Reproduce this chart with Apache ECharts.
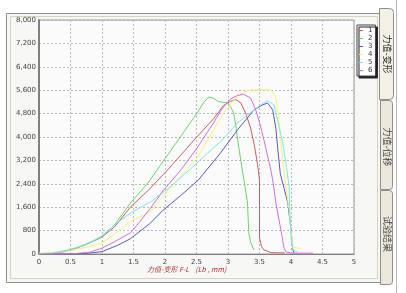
<!DOCTYPE html>
<html><head><meta charset="utf-8">
<script src="https://cdn.jsdelivr.net/npm/echarts@6/dist/echarts.min.js"></script>
<style>html,body{margin:0;padding:0;background:#fff}#c{width:406px;height:293px}</style>
</head><body><div id="c"></div>
<script>
// ---- data (x: deformation mm, y: force Lb) ----
var seriesNames = ['1','2','3','4','5','6'];
var xTicks = ['0','0.5','1','1.5','2','2.5','3','3.5','4','4.5','5'];
var yTicks = ['0','800','1,600','2,400','3,200','4,000','4,800','5,600','6,400','7,200','8,000'];
var curve1 = [[0,0],[0.2,20],[0.4,80],[0.6,200],[0.8,380],[1.0,580],[1.2,930],[1.45,1600],[1.74,2190],[2.0,2780],[2.25,3380],[2.5,3990],[2.77,4620],[2.93,5080],[3.04,5220],[3.12,5280],[3.2,5180],[3.28,4820],[3.36,4300],[3.42,3700],[3.47,3050],[3.5,2530],[3.5,1500],[3.5,580],[3.53,260],[3.57,140],[3.68,50],[3.79,40],[3.9,40]];
var curve2 = [[0,0],[0.2,40],[0.5,150],[0.75,330],[0.97,550],[1.2,1000],[1.45,1740],[1.74,2460],[2.0,3260],[2.25,4020],[2.5,4790],[2.62,5200],[2.7,5370],[2.76,5330],[2.85,5210],[3.0,5160],[3.05,5000],[3.09,4820],[3.13,4300],[3.17,3660],[3.24,2700],[3.31,1740],[3.33,720],[3.36,400],[3.41,140]];
var curve3 = [[0,0],[0.3,0],[0.6,10],[0.8,30],[1.0,80],[1.25,300],[1.45,520],[1.77,1060],[1.97,1500],[2.25,2000],[2.53,2530],[2.88,3450],[3.15,4240],[3.41,4920],[3.55,5100],[3.63,5160],[3.71,4920],[3.76,4300],[3.79,3600],[3.83,2750],[3.95,1740],[4.0,820],[4.03,140],[4.05,30]];
var curve4 = [[0,30],[0.25,60],[0.5,120],[0.75,230],[1.0,380],[1.25,750],[1.45,1120],[1.77,1440],[2.05,2190],[2.2,2530],[2.52,3320],[2.93,4820],[3.09,5270],[3.25,5540],[3.35,5610],[3.68,5610],[3.76,5370],[3.8,4700],[3.84,3800],[3.9,2600],[3.97,1500],[4.0,820],[4.03,240],[4.1,200],[4.16,200]];
var curve5 = [[0,0],[0.25,40],[0.5,130],[0.75,330],[1.0,620],[1.2,1000],[1.45,1400],[1.77,1780],[2.08,2290],[2.4,2900],[2.77,3630],[2.88,3830],[3.15,4480],[3.41,4920],[3.55,5150],[3.63,5240],[3.73,5100],[3.8,4450],[3.87,3800],[3.93,2950],[3.97,2300],[3.98,1500],[4.0,580],[4.03,140],[4.1,70]];
var curve6 = [[0,0],[0.3,0],[0.6,20],[0.8,60],[1.0,200],[1.2,420],[1.45,720],[1.6,1100],[1.77,1570],[1.98,2190],[2.25,2870],[2.5,3600],[2.77,4480],[2.9,4950],[3.04,5300],[3.15,5420],[3.25,5460],[3.36,5330],[3.44,4920],[3.5,4500],[3.57,3900],[3.68,2870],[3.72,2400],[3.76,1740],[3.84,820],[3.89,200],[3.92,70],[4.0,30],[4.2,30],[4.35,30]];
var curves = [curve1,curve2,curve3,curve4,curve5,curve6];
var colors = ['#c06262','#70d070','#5a5ab4','#f2f27a','#7ee6e6','#d070d8'];

var chart = echarts.init(document.getElementById('c'));
var series = curves.map(function(d,i){
  return {name:seriesNames[i], type:'line', data:d, showSymbol:false, symbol:'none',
    lineStyle:{width:1,color:colors[i]}, itemStyle:{color:colors[i]}, animation:false};
});
chart.setOption({
  animation:false,
  backgroundColor:'#fff',
  graphic:[
    {type:'rect', shape:{x:6.5,y:13.5,width:375,height:269}, style:{fill:'#f7f7f5',stroke:'#8e8e8e',lineWidth:1}, z:-10},
    {type:'rect', shape:{x:10.5,y:16.5,width:367,height:262}, style:{fill:'none',stroke:'#d6d2bc',lineWidth:1}, z:-9},
    {type:'rect', shape:{x:39,y:20,width:315,height:234}, style:{fill:'#fbfbfb',stroke:'#9a9a9a',lineWidth:1}, z:-8},
    // tabs
    {type:'rect', shape:{x:380.5,y:100.5,width:12,height:89,r:[0,3,3,0]}, style:{fill:'#ece9dc',stroke:'#8e8e8e',lineWidth:1}, z:-7},
    {type:'rect', shape:{x:380.5,y:190.5,width:12,height:94,r:[0,3,3,0]}, style:{fill:'#ece9dc',stroke:'#8e8e8e',lineWidth:1}, z:-7},
    {type:'rect', shape:{x:379.5,y:8.5,width:14,height:91,r:[0,4,4,0]}, style:{fill:'#f3f1e6',stroke:'#8e8e8e',lineWidth:1}, z:-6},
    {type:'line', shape:{x1:396.5,y1:0,x2:396.5,y2:293}, style:{stroke:'#b8b8b8',lineWidth:1}, z:-6},
    {type:'text', x:387, y:54, rotation:-Math.PI/2, style:{text:'力值-变形', font:'9px "Noto Sans CJK SC"', fill:'#222', align:'center', verticalAlign:'middle'}},
    {type:'text', x:387, y:147, rotation:-Math.PI/2, style:{text:'力值-位移', font:'9px "Noto Sans CJK SC"', fill:'#444', align:'center', verticalAlign:'middle'}},
    {type:'text', x:387, y:234, rotation:-Math.PI/2, style:{text:'试验结果', font:'9px "Noto Sans CJK SC"', fill:'#444', align:'center', verticalAlign:'middle'}},
    {type:'text', left:147, top:266, style:{text:'力值-变形 F-L    (Lb , mm)', font:'italic 7px "Noto Sans CJK SC"', fill:'#b03030'}}
  ],
  legend:{
    data:seriesNames.map(function(n){return {name:n, icon:'path://M0,0L8,0L8,2L0,2Z'};}),
    orient:'vertical', left:357, top:25,
    itemWidth:4, itemHeight:1, itemGap:1, padding:[2,3,2,2],
    itemStyle:{borderWidth:0},
    backgroundColor:'#fff', borderColor:'#444', borderWidth:1,
    shadowColor:'#222', shadowOffsetX:2, shadowOffsetY:2, shadowBlur:0,
    textStyle:{fontSize:7, color:'#333', fontFamily:'DejaVu Sans', lineHeight:6.5}
  },
  grid:{left:39, top:20, width:315, height:234, containLabel:false},
  xAxis:{type:'value', min:0, max:5, interval:0.5,
    axisLine:{show:true, lineStyle:{color:'#808080', width:1}},
    axisTick:{show:false},
    axisLabel:{fontSize:7, color:'#444', margin:5, fontFamily:'DejaVu Sans',
      formatter:function(v){return xTicks[Math.round(v/0.5)];}},
    splitLine:{show:true, lineStyle:{color:'#b8b8b8', type:[2,2], width:1}}
  },
  yAxis:{type:'value', min:0, max:8000, interval:800,
    axisLine:{show:true, lineStyle:{color:'#808080', width:2}},
    axisTick:{show:false},
    axisLabel:{fontSize:7, color:'#444', margin:3, fontFamily:'DejaVu Sans',
      formatter:function(v){return yTicks[Math.round(v/800)];}},
    splitLine:{show:true, lineStyle:{color:'#b8b8b8', type:[2,2], width:1}}
  },
  series:series
});
</script></body></html>
